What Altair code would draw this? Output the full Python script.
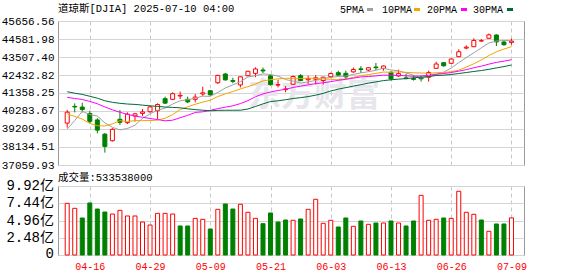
import altair as alt
import pandas as pd

# ---------------- data ----------------
dates = ["04-11","04-14","04-15","04-16","04-17","04-21","04-22","04-23","04-24","04-25",
         "04-28","04-29","04-30","05-01","05-02","05-05","05-06","05-07","05-08","05-09",
         "05-12","05-13","05-14","05-15","05-16","05-19","05-20","05-21","05-22","05-23",
         "05-27","05-28","05-29","05-30","06-02","06-03","06-04","06-05","06-06","06-09",
         "06-10","06-11","06-12","06-13","06-16","06-17","06-18","06-20","06-23","06-24",
         "06-25","06-26","06-27","06-30","07-01","07-02","07-03","07-07","07-08","07-09"]

open_ = [39560, 40560, 40520, 40140, 39750, 38900, 38510, 39790, 39590, 39990,
         40140, 40240, 40300, 41020, 40980, 41180, 40980, 40980, 41300, 41495,
         41970, 42490, 42100, 41840, 42390, 42530, 42730, 42380, 41830, 41560,
         41880, 42390, 42150, 42180, 42100, 42330, 42570, 42534, 42620, 42800,
         42730, 42910, 42810, 42594, 42373, 42260, 42220, 42250, 42296, 42832,
         43167, 43131, 43525, 44040, 44122, 44460, 44624, 44821, 44400, 44380]
high = [40350, 40740, 40780, 40300, 39850, 38970, 39260, 40340, 40200, 40170,
        40400, 40600, 40740, 41140, 41400, 41440, 41140, 41300, 41730, 41530,
        42450, 42560, 42270, 42350, 42680, 42890, 42880, 42450, 42150, 41776,
        42400, 42490, 42390, 42430, 42330, 42580, 42690, 42690, 42880, 42960,
        42900, 43150, 43000, 42650, 42750, 42500, 42420, 42380, 42690, 43227,
        43200, 43420, 43967, 44205, 44624, 44580, 44910, 44860, 44500, 44600]
low = [39290, 40200, 40200, 39550, 38950, 37800, 38460, 39450, 39510, 39650,
       39990, 40180, 39800, 40700, 40930, 41000, 40750, 40800, 41180, 41200,
       41900, 42100, 41940, 41690, 42350, 42300, 42550, 41800, 41690, 41400,
       41850, 42070, 41900, 41870, 41870, 42250, 42400, 42176, 42560, 42550,
       42650, 42720, 42690, 42100, 42330, 42176, 42100, 42040, 42033, 42800,
       42930, 43100, 43500, 43967, 44100, 44420, 44600, 44164, 44180, 44240]
close = [40213, 40525, 40369, 39669, 39142, 38170, 39187, 39607, 40093, 40114,
         40228, 40528, 40669, 40753, 41317, 41219, 40829, 41114, 41368, 41249,
         42410, 42140, 42051, 42323, 42655, 42792, 42677, 41860, 41859, 41603,
         42344, 42099, 42216, 42270, 42305, 42520, 42428, 42320, 42763, 42762,
         42867, 42866, 42968, 42198, 42515, 42216, 42172, 42207, 42582, 43089,
         42982, 43387, 43819, 44095, 44495, 44484, 44829, 44406, 44241, 44458]
prev_close_first = 39594  # close of the day before the first bar

# volume in 亿 (1e8)
volume_yi = [7.43, 6.71, 5.32, 7.48, 6.61, 6.18, 5.89, 6.42, 5.61, 5.61,
             4.74, 4.31, 5.99, 5.99, 5.89, 4.17, 4.17, 5.27, 5.13, 3.74,
             6.57, 7.33, 6.61, 7.29, 6.14, 5.27, 4.50, 6.04, 4.74, 5.03,
             4.99, 5.18, 6.57, 8.01, 4.56, 4.99, 4.03, 5.32, 4.12, 4.89,
             4.41, 4.60, 4.60, 4.89, 4.60, 4.17, 4.89, 8.58, 4.99, 5.13,
             5.32, 5.27, 9.16, 6.14, 5.85, 5.03, 3.41, 4.46, 4.46, 5.33538]

ma5 = [39205, 39717, 40262, 40074, 39984, 39575, 39307, 39155, 39240, 39434,
       39846, 40114, 40326, 40458, 40699, 40897, 40957, 41046, 41169, 41156,
       41394, 41656, 41844, 42035, 42316, 42392, 42500, 42461, 42369, 42158,
       42069, 41953, 42024, 42106, 42247, 42282, 42348, 42369, 42467, 42559,
       42628, 42716, 42845, 42732, 42683, 42553, 42414, 42262, 42338, 42453,
       42606, 42849, 43172, 43474, 43756, 44056, 44344, 44462, 44491, 44484]
ma10 = [40111, 39963, 39801, 39545, 39405, 39390, 39512, 39708, 39657, 39709,
        39710, 39711, 39741, 39849, 40067, 40372, 40536, 40686, 40814, 40927,
        41146, 41307, 41445, 41602, 41736, 41893, 42078, 42153, 42202, 42237,
        42230, 42226, 42243, 42238, 42203, 42175, 42150, 42196, 42287, 42403,
        42455, 42532, 42607, 42600, 42621, 42590, 42565, 42553, 42535, 42568,
        42580, 42632, 42717, 42906, 43104, 43331, 43597, 43817, 43983, 44120]
ma20 = [41097, 41031, 40971, 40856, 40715, 40525, 40355, 40206, 40088, 39978,
        39910, 39837, 39771, 39697, 39736, 39881, 40024, 40197, 40235, 40318,
        40428, 40509, 40593, 40726, 40901, 41132, 41307, 41419, 41508, 41582,
        41688, 41767, 41844, 41920, 41969, 42034, 42114, 42174, 42244, 42320,
        42343, 42379, 42425, 42419, 42412, 42383, 42358, 42375, 42411, 42485,
        42517, 42582, 42662, 42753, 42863, 42961, 43081, 43185, 43259, 43344]
ma30 = [41435, 41346, 41274, 41163, 41048, 40894, 40803, 40742, 40700, 40677,
        40635, 40591, 40561, 40520, 40499, 40474, 40415, 40366, 40330, 40295,
        40322, 40327, 40329, 40332, 40402, 40552, 40709, 40849, 40891, 40958,
        41029, 41081, 41143, 41230, 41335, 41480, 41588, 41678, 41767, 41856,
        41944, 42022, 42098, 42146, 42186, 42220, 42264, 42301, 42341, 42403,
        42422, 42463, 42522, 42581, 42643, 42699, 42771, 42856, 42935, 43030]

price_ticks = [45656.56, 44581.98, 43507.40, 42432.82, 41358.25,
               40283.67, 39209.09, 38134.51, 37059.93]
vol_ticks_yi = [0, 2.48, 4.96, 7.44, 9.92]
vol_tick_labels = ["0", "2.48亿", "4.96亿", "7.44亿", "9.92亿"]
label_idx = [3, 11, 19, 27, 35, 43, 51, 59]
ma_names = ["5PMA", "10PMA", "20PMA", "30PMA"]
ma_colors = ["#a0a0a0", "#f5a400", "#ff00ff", "#006a35"]

title_text = "道琼斯[DJIA] 2025-07-10 04:00"
vol_title = "成交量:533538000"
watermark = "东方财富"

# ---------------- tables ----------------
n = len(dates)
df = pd.DataFrame({"i": list(range(n)), "date": dates, "open": open_, "high": high,
                   "low": low, "close": close,
                   "volume": [v * 1e8 for v in volume_yi]})
df["up"] = df["close"] >= df["open"]
prev = [prev_close_first] + close[:-1]
df["vup"] = [c >= p for c, p in zip(close, prev)]

ma_df = pd.concat([
    pd.DataFrame({"i": list(range(n)), "value": vals, "series": name})
    for name, vals in zip(ma_names, [ma5, ma10, ma20, ma30])
])
vt_df = pd.DataFrame({"v": [t * 1e8 for t in vol_ticks_yi], "label": vol_tick_labels})
one = pd.DataFrame({"k": [0]})

RED = "#ff0000"
GREEN = "#008000"
MONO = "'Liberation Mono', 'Noto Sans CJK SC', monospace"
W = 466
VH = 69

x_scale = alt.Scale(domain=[-0.56, 60.0], nice=False, zero=False)
x_price = alt.X("i:Q", scale=x_scale,
                axis=alt.Axis(values=label_idx, labels=False, ticks=False, domain=False,
                              grid=True, gridDash=[4, 3], gridColor="#c8c8c8", title=None))
y_scale = alt.Scale(domain=[price_ticks[-1], price_ticks[0]], nice=False, zero=False)
y_axis = alt.Axis(values=price_ticks, format=".2f", grid=True, gridColor="#d4d4d4",
                  ticks=False, domain=False, labelFont=MONO, labelFontSize=11,
                  labelColor="#000000", labelPadding=4, minExtent=56, maxExtent=56,
                  labelOverlap=False, title=None)

wm = alt.Chart(one).mark_text(font="'Noto Sans CJK SC'", fontSize=33, fontWeight="bold",
                              color="#e6e6ec", align="center", baseline="middle").encode(
    x=alt.value(256), y=alt.value(75), text=alt.value(watermark))

wicks = alt.Chart(df).mark_rule(strokeWidth=1).encode(
    x=x_price,
    y=alt.Y("low:Q", scale=y_scale, axis=y_axis),
    y2="high:Q",
    color=alt.condition("datum.up", alt.value(RED), alt.value(GREEN)))

bodies = alt.Chart(df).mark_bar(size=4, strokeWidth=1).encode(
    x=x_price,
    y=alt.Y("open:Q", scale=y_scale, axis=y_axis),
    y2="close:Q",
    fill=alt.condition("datum.up", alt.value("#ffffff"), alt.value(GREEN)),
    stroke=alt.condition("datum.up", alt.value(RED), alt.value(GREEN)))

lines = alt.Chart(ma_df).mark_line(strokeWidth=1).encode(
    x=x_price,
    y=alt.Y("value:Q", scale=y_scale, axis=y_axis),
    color=alt.Color("series:N", scale=alt.Scale(domain=ma_names, range=ma_colors), legend=None),
    detail="series:N")

title_mark = alt.Chart(one).mark_text(font=MONO, fontSize=10.5, color="#000000",
                                      align="left", baseline="middle").encode(
    x=alt.value(0), y=alt.value(-12.5), text=alt.value(title_text))

legend_layers = []
lx = [282, 324, 369, 415]
sx = [309, 356, 403, 449]
for name, col, tx, sw in zip(ma_names, ma_colors, lx, sx):
    legend_layers.append(alt.Chart(one).mark_text(font=MONO, fontSize=10, color="#000000",
                                                  align="left", baseline="middle").encode(
        x=alt.value(tx), y=alt.value(-11.5), text=alt.value(name)))
    legend_layers.append(alt.Chart(one).mark_rule(strokeWidth=3, color=col).encode(
        x=alt.value(sw), x2=alt.value(sw + 6), y=alt.value(-11.5)))

price = alt.layer(wm, wicks, bodies, lines, title_mark, *legend_layers).properties(
    width=W, height=144)

label_js = "[" + ",".join("'" + d + "'" for d in dates) + "][datum.value]"
x_vol = alt.X("i:Q", scale=x_scale,
              axis=alt.Axis(values=label_idx, labelExpr=label_js, ticks=False, domain=False,
                            grid=True, gridDash=[4, 3], gridColor="#c8c8c8", title=None,
                            labelFont=MONO, labelFontSize=10, labelColor=RED,
                            labelPadding=6, labelFlush=False, labelOverlap=False))
vol_y_scale = alt.Scale(domain=[0, 9.92e8], nice=False, zero=True)
vol_y_axis = alt.Axis(values=[t * 1e8 for t in vol_ticks_yi], labels=False,
                      grid=True, gridColor="#d4d4d4", ticks=False, domain=False,
                      minExtent=56, maxExtent=56, title=None)
vol_bars = alt.Chart(df).mark_bar(size=4, strokeWidth=1).encode(
    x=x_vol,
    y=alt.Y("volume:Q", scale=vol_y_scale, axis=vol_y_axis),
    fill=alt.condition("datum.vup", alt.value("#ffffff"), alt.value(GREEN)),
    stroke=alt.condition("datum.vup", alt.value(RED), alt.value(GREEN)))
# tick labels of the volume axis (the upper four through the scale)
vol_labels = alt.Chart(vt_df.iloc[1:]).mark_text(font=MONO, fontSize=14, color="#000000",
                                                 align="right", baseline="middle").encode(
    x=alt.value(-4),
    y=alt.Y("v:Q", scale=vol_y_scale, axis=vol_y_axis),
    text="label:N")
# the baseline label sits on the bottom edge of the panel
vol_zero = alt.Chart(one).mark_text(font=MONO, fontSize=14, color="#000000",
                                    align="right", baseline="bottom", dy=6).encode(
    x=alt.value(-4), y=alt.value(VH), text=alt.value(vol_tick_labels[0]))
vol_title_mark = alt.Chart(one).mark_text(font=MONO, fontSize=10.5, color="#000000",
                                          align="left", baseline="middle").encode(
    x=alt.value(0), y=alt.value(-8.5), text=alt.value(vol_title))

vol = alt.layer(vol_bars, vol_labels, vol_zero, vol_title_mark).properties(width=W, height=VH)

chart = alt.vconcat(price, vol, spacing=1).configure(
    padding={"left": 0, "top": 3, "right": 0, "bottom": 0}
).configure_view(stroke="#999999", strokeWidth=1)

chart.save("out.html", embed_options={"renderer": "svg", "actions": False})
